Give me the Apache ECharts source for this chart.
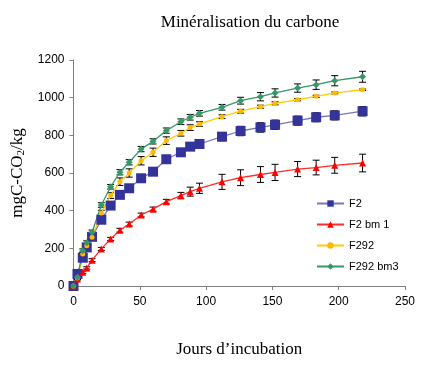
<!DOCTYPE html>
<html>
<head>
<meta charset="utf-8">
<script src="https://cdn.jsdelivr.net/npm/echarts@6/dist/echarts.min.js"></script>
<style>
html,body{margin:0;padding:0;background:#fff;}
#chart{width:421px;height:365px;}
</style>
</head>
<body>
<div id="chart"></div>
<script>
// jours d'incubation
var days = [0,3,7,10,14,21,28,35,42,51,60,70,81,88,95,112,126,141,152,169,183,197,218];
// mgC-CO2/kg
var f2 = [0,64,150,205,261,352,427,484,519,572,607,673,710,740,754,793,823,842,856,878,896,906,928];
var f2bm1 = [0,37,73,96,137,197,250,296,329,377,408,448,480,501,519,553,575,592,603,621,629,641,653];
var f292 = [0,42,170,214,259,388,480,554,600,665,710,772,811,841,860,899,928,952,970,989,1007,1025,1042];
var f292bm3 = [0,46,187,230,285,430,527,604,657,727,768,825,872,896,917,949,984,1005,1025,1051,1069,1090,1111];
// barres d'erreur (+/-)
var errF2 = [0,8,10,10,12,12,14,14,15,15,16,18,18,20,20,22,25,25,25,24,24,24,25];
var errF2bm1 = [0,5,6,6,8,8,8,10,10,10,11,12,17,24,27,40,42,42,43,40,39,42,47];
var errF292 = [0,8,10,10,12,14,15,20,22,22,22,20,15,15,12,10,10,8,8,6,6,5,4];
var errF292bm3 = [0,8,10,10,12,12,12,14,14,14,14,14,15,15,15,15,18,22,22,22,25,27,29];

var names = ['F2','F2 bm 1','F292','F292 bm3'];

function pairs(ys){
	var out = [];
	for(var i=0;i<days.length;i++){
		out.push([days[i], ys[i]]);
	}
	return out;
}
function errData(ys, es){
	var out = [];
	for(var i=0;i<days.length;i++){
		out.push([days[i], ys[i]-es[i], ys[i]+es[i]]);
	}
	return out;
}
function renderErr(params, api){
	var x = api.value(0);
	var top = api.coord([x, api.value(2)]);
	var bot = api.coord([x, api.value(1)]);
	var w = 3.5;
	var st = {stroke:'#000', lineWidth:1};
	return {
		type:'group',
		children:[
			{type:'line', shape:{x1:top[0],y1:top[1],x2:bot[0],y2:bot[1]}, style:st},
			{type:'line', shape:{x1:top[0]-w,y1:top[1],x2:top[0]+w,y2:top[1]}, style:st},
			{type:'line', shape:{x1:bot[0]-w,y1:bot[1],x2:bot[0]+w,y2:bot[1]}, style:st}
		]
	};
}
function errSeries(ys, es){
	return {
		type:'custom',
		renderItem: renderErr,
		data: errData(ys, es),
		z: 1,
		silent: true,
		encode:{x:0, y:[1,2]}
	};
}

var chart = echarts.init(document.getElementById('chart'));
var option = {
	animation:false,
	backgroundColor:'#fff',
	title:{
		text:'Minéralisation du carbone',
		left:245,
		textAlign:'center',
		top:9,
		textStyle:{fontFamily:'Liberation Serif', fontSize:17, fontWeight:'normal', color:'#000'}
	},
	legend:{
		data:names,
		orient:'vertical',
		left:311,
		top:193,
		itemWidth:27,
		itemHeight:8,
		itemGap:10,
		textStyle:{fontFamily:'Liberation Sans', fontSize:11, color:'#000'}
	},
	grid:{left:73.5, right:16, top:60, bottom:79},
	xAxis:{
		type:'value',
		min:0, max:250, interval:50,
		name:'Jours d\u2019incubation',
		nameLocation:'middle',
		nameGap:55,
		nameTextStyle:{fontFamily:'Liberation Serif', fontSize:17, color:'#000'},
		axisLine:{lineStyle:{color:'#808080'}},
		axisTick:{length:4, lineStyle:{color:'#808080'}},
		axisLabel:{fontFamily:'Liberation Sans', fontSize:12, color:'#000', margin:10},
		splitLine:{show:false}
	},
	yAxis:{
		type:'value',
		min:0, max:1200, interval:200,
		name:'mgC-CO{sub|2}/kg',
		nameLocation:'middle',
		nameGap:45,
		nameRotate:90,
		nameTextStyle:{
			fontFamily:'Liberation Serif', fontSize:17, color:'#000',
			rich:{sub:{fontFamily:'Liberation Serif', fontSize:11, verticalAlign:'bottom', padding:[8,0,0,0]}}
		},
		axisLine:{show:true, lineStyle:{color:'#808080'}},
		axisTick:{show:true, length:4, lineStyle:{color:'#808080'}},
		axisLabel:{fontFamily:'Liberation Sans', fontSize:12, color:'#000', margin:9,
			formatter:function(v){ return String(v); }},
		splitLine:{show:false}
	},
	series:[
		errSeries(f2, errF2),
		errSeries(f2bm1, errF2bm1),
		errSeries(f292, errF292),
		errSeries(f292bm3, errF292bm3),
		{
			name:'F2', type:'line', data:pairs(f2), z:3,
			symbol:'rect', symbolSize:10,
			lineStyle:{color:'#7777BB', width:1.3},
			itemStyle:{color:'#333399'}
		},
		{
			name:'F2 bm 1', type:'line', data:pairs(f2bm1), z:3,
			symbol:'triangle', symbolSize:7,
			lineStyle:{color:'#FF2A2A', width:1.3},
			itemStyle:{color:'#FF0000'}
		},
		{
			name:'F292', type:'line', data:pairs(f292), z:3,
			symbol:'circle', symbolSize:5,
			lineStyle:{color:'#FFCC00', width:1.3},
			itemStyle:{color:'#FFB800'}
		},
		{
			name:'F292 bm3', type:'line', data:pairs(f292bm3), z:3,
			symbol:'diamond', symbolSize:7,
			lineStyle:{color:'#339966', width:1.3},
			itemStyle:{color:'#339966'}
		}
	]
};
chart.setOption(option);
</script>
</body>
</html>
